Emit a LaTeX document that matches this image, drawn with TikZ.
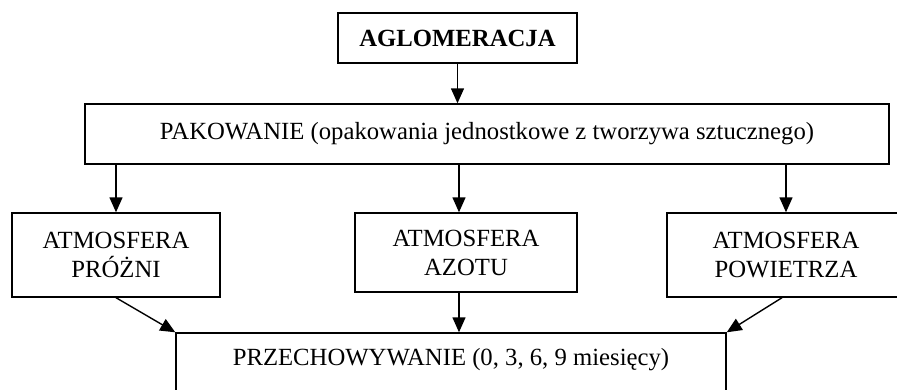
\documentclass[tikz,border=0pt]{standalone}
\usepackage{fontspec}
\setmainfont{Liberation Serif}
\usetikzlibrary{arrows.meta}
\begin{document}
\begin{tikzpicture}[x=1pt,y=-1pt,
  font=\fontsize{24.7}{29}\selectfont,
  box/.style={draw,line width=1.4pt,rectangle,inner sep=0pt,align=center},
  arr/.style={line width=1.4pt,-{Triangle[length=15pt,width=13pt]}},
  lne/.style={line width=1.4pt}]
\useasboundingbox (0,0) rectangle (897,389);
\clip (0,0) rectangle (897,389);

% top stage
\node[box,minimum width=239pt,minimum height=50pt,font=\fontsize{24.7}{29}\selectfont\bfseries]
  (agl) at (457.5,38) {AGLOMERACJA};
\node[box,minimum width=804pt,minimum height=60pt] (pak) at (487,134)
  {PAKOWANIE (opakowania jednostkowe z tworzywa sztucznego)};

% three atmospheres
\node[box,minimum width=208pt,minimum height=84pt] (vac) at (116,255)
  {ATMOSFERA\\PRÓŻNI};
\node[box,minimum width=222pt,minimum height=79pt] (nit) at (466,252.5)
  {ATMOSFERA\\AZOTU};
\node[box,minimum width=238pt,minimum height=84pt] (air) at (786,255)
  {ATMOSFERA\\POWIETRZA};

% storage, open towards the bottom edge
\node[box,anchor=base,minimum width=550pt,text height=28pt,text depth=60pt,inner ysep=4pt]
  (store) at (451,365) {PRZECHOWYWANIE (0, 3, 6, 9 miesięcy)};

% connectors
\coordinate (nitin) at ([xshift=-7pt]nit.north);
\coordinate (nitout) at ([xshift=-7pt]nit.south);
\draw[arr] (agl.south) -- (agl.south |- pak.north);
\draw[arr] (pak.south -| vac.north) -- (vac.north);
\draw[arr] (pak.south -| nitin) -- (nitin);
\draw[arr] (pak.south -| air.north) -- (air.north);
\draw[arr] (vac.south) -- (store.north west);
\draw[arr] (nitout) -- (nitout |- store.north);
\draw[arr] ([xshift=-4pt]air.south) -- (store.north east);
\end{tikzpicture}
\end{document}
